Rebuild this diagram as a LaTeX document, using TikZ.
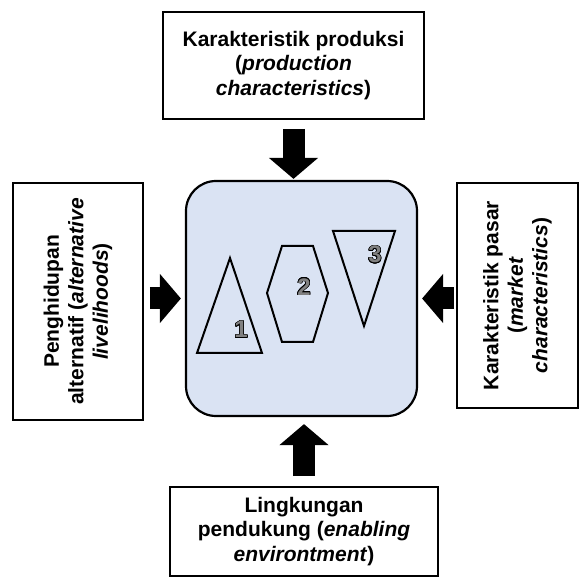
\documentclass[tikz,border=0pt]{standalone}
\usepackage{fontspec}
\setmainfont{Liberation Sans}
\usepackage{contour}
\contourlength{0.6pt}
\usetikzlibrary{arrows.meta}
\definecolor{intifill}{RGB}{218,227,243}

\begin{document}
\begin{tikzpicture}[x=1pt,y=-1pt,
    factor/.style={draw,line width=1.8pt,align=center,inner sep=0pt,
      font=\fontsize{21}{24.5}\selectfont\bfseries},
    core/.style={draw,line width=2.2pt,fill=intifill,rounded corners=30pt},
    push/.style={line width=22pt,-{Triangle[width=48pt,length=21pt]}},
    piece/.style={line width=2pt},
    tag/.style={font=\fontsize{24}{24}\selectfont\bfseries}]
  \useasboundingbox (0,0) rectangle (579,577);
  % the four factors round the centre
  \node[factor,minimum width=261pt,minimum height=107pt] (prod) at (293.5,65.5)
    {Karakteristik produksi\\(\textit{production}\\\textit{characteristics})};
  \node[factor,rotate=90,minimum width=237pt,minimum height=130pt] (hidup) at (78,301.5)
    {Penghidupan\\alternatif (\textit{alternative}\\\textit{livelihoods})};
  \node[factor,rotate=90,minimum width=225pt,minimum height=121pt] (pasar) at (517.5,295.5)
    {Karakteristik pasar\\(\textit{market}\\\textit{characteristics})};
  \node[factor,minimum width=268pt,minimum height=89pt] (dukung) at (304,531.5)
    {Lingkungan\\pendukung (\textit{enabling}\\\textit{environtment})};
  \node[core,minimum width=231pt,minimum height=235pt] (inti) at (301.5,298.5) {};
  % shapes inside
  \draw[piece] (230,258) -- (262,353) -- (197,353) -- cycle;
  \draw[piece] (282,246) -- (313,246) -- (328,293) -- (313,342) -- (282,342) -- (267,293) -- cycle;
  \draw[piece] (333,231) -- (395,231) -- (364,326) -- cycle;
  \node[tag] (t1) at (241,330) {\contour{black}{\textcolor{gray}{1}}};
  \node[tag] (t2) at (304,287) {\contour{black}{\textcolor{gray}{2}}};
  \node[tag] (t3) at (375,255) {\contour{black}{\textcolor{gray}{3}}};
  % block arrows
  \draw[push,shorten <=9pt,shorten >=1pt] (prod.south) -- (prod.south |- inti.north);
  \draw[push,shorten <=6pt,shorten >=4pt] (hidup.south |- inti.west) -- (inti.west);
  \draw[push,shorten <=2pt,shorten >=4pt] (pasar.north |- inti.east) -- (inti.east);
  \draw[push,shorten <=10pt,shorten >=7pt] (dukung.north) -- (dukung.north |- inti.south);
\end{tikzpicture}
\end{document}
